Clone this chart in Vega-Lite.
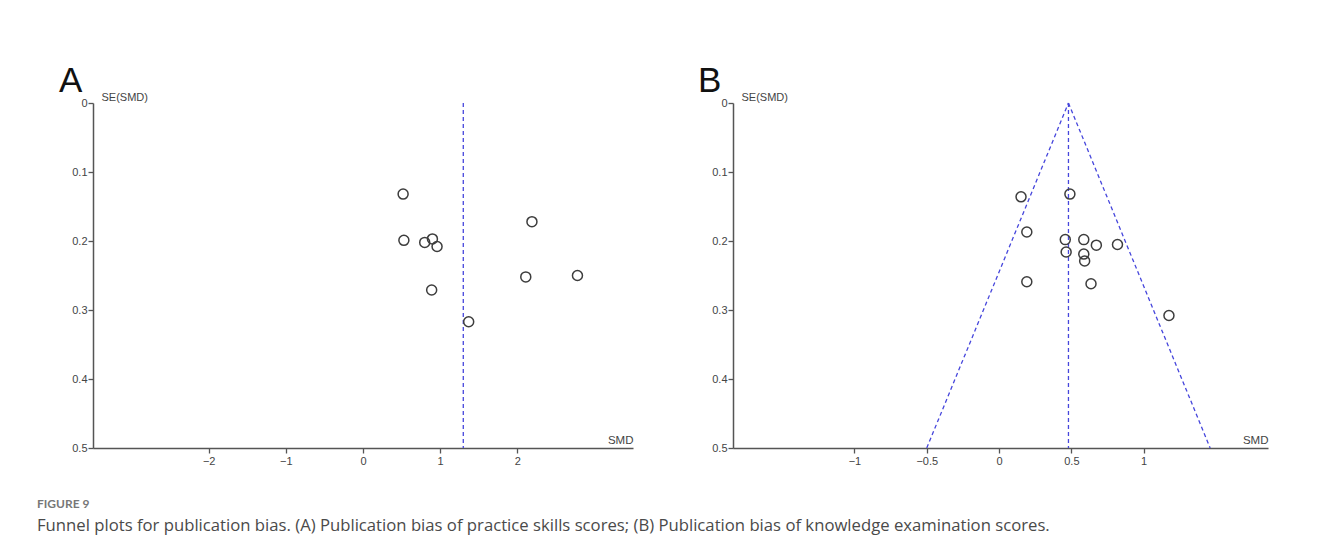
{
  "$schema": "https://vega.github.io/schema/vega-lite/v6.json",
  "autosize": {"type": "pad"},
  "padding": {"left": 37, "top": 64, "right": 56, "bottom": 16},
  "background": "white",
  "bounds": "flush",
  "spacing": 100,
  "config": {
    "view": {"stroke": null},
    "axis": {
      "grid": false,
      "domainColor": "#555",
      "domainWidth": 1.5,
      "tickColor": "#555",
      "tickWidth": 1.3,
      "tickSize": 5,
      "labelFont": "Liberation Sans",
      "labelFontSize": 11,
      "labelColor": "#444",
      "titleFont": "Liberation Sans",
      "titleFontSize": 11,
      "titleFontWeight": "normal",
      "titleColor": "#444"
    },
    "title": {"font": "Liberation Sans", "fontSize": 35, "fontWeight": "normal", "color": "#111"}
  },
  "datasets": {
    "a_points": [
      {"smd": 0.52, "se": 0.132},
      {"smd": 0.53, "se": 0.199},
      {"smd": 0.80, "se": 0.202},
      {"smd": 0.90, "se": 0.197},
      {"smd": 0.96, "se": 0.208},
      {"smd": 0.89, "se": 0.271},
      {"smd": 1.37, "se": 0.317},
      {"smd": 2.19, "se": 0.172},
      {"smd": 2.11, "se": 0.252},
      {"smd": 2.78, "se": 0.250}
    ],
    "a_lines": [
      {"line": "center", "smd": 1.30, "se": 0},
      {"line": "center", "smd": 1.30, "se": 0.5}
    ],
    "b_points": [
      {"smd": 0.152, "se": 0.136},
      {"smd": 0.49, "se": 0.132},
      {"smd": 0.192, "se": 0.187},
      {"smd": 0.458, "se": 0.198},
      {"smd": 0.586, "se": 0.198},
      {"smd": 0.673, "se": 0.206},
      {"smd": 0.819, "se": 0.205},
      {"smd": 0.464, "se": 0.216},
      {"smd": 0.586, "se": 0.219},
      {"smd": 0.592, "se": 0.229},
      {"smd": 0.192, "se": 0.259},
      {"smd": 0.636, "se": 0.262},
      {"smd": 1.175, "se": 0.308}
    ],
    "b_lines": [
      {"line": "center", "smd": 0.48, "se": 0},
      {"line": "center", "smd": 0.48, "se": 0.5},
      {"line": "left", "smd": 0.48, "se": 0},
      {"line": "left", "smd": -0.50, "se": 0.5},
      {"line": "right", "smd": 0.48, "se": 0},
      {"line": "right", "smd": 1.46, "se": 0.5}
    ]
  },
  "title": {
    "text": "FIGURE 9",
    "subtitle": "Funnel plots for publication bias. (A) Publication bias of practice skills scores; (B) Publication bias of knowledge examination scores.",
    "orient": "bottom",
    "anchor": "start",
    "frame": "group",
    "dx": -56,
    "offset": 33,
    "font": "Lato",
    "fontSize": 12,
    "fontWeight": "bold",
    "color": "#777",
    "subtitleFont": "Open Sans",
    "subtitleFontSize": 16.7,
    "subtitleColor": "#4a4a4a",
    "subtitlePadding": 7
  },
  "hconcat": [
    {
      "width": 540,
      "height": 345,
      "title": {"text": "A", "anchor": "start", "frame": "group", "dx": -34, "offset": -8},
      "layer": [
        {
          "data": {"name": "a_lines"},
          "mark": {"type": "line", "color": "#4646dc", "strokeWidth": 1.3, "strokeDash": [4, 3]},
          "encoding": {
            "x": {"field": "smd", "type": "quantitative", "scale": {"domain": [-3.5, 3.5], "nice": false, "zero": false},
              "axis": {"values": [-2, -1, 0, 1, 2], "format": "~g", "labelPadding": 2, "title": "SMD", "titleX": 540, "titleY": -3, "titleAlign": "right", "titleBaseline": "bottom", "titleFontSize": 11.5}},
            "y": {"field": "se", "type": "quantitative", "scale": {"domain": [0, 0.5], "reverse": true, "nice": false},
              "axis": {"values": [0, 0.1, 0.2, 0.3, 0.4, 0.5], "format": "~g", "labelPadding": 1, "title": "SE(SMD)", "titleAngle": 0, "titleX": 8, "titleY": -1, "titleAlign": "left", "titleBaseline": "bottom"}},
            "detail": {"field": "line"}
          }
        },
        {
          "data": {"name": "a_points"},
          "mark": {"type": "point", "shape": "circle", "filled": false, "color": "#3d3d3d", "strokeWidth": 1.5, "size": 100, "opacity": 1},
          "encoding": {
            "x": {"field": "smd", "type": "quantitative"},
            "y": {"field": "se", "type": "quantitative"}
          }
        }
      ]
    },
    {
      "width": 535,
      "height": 345,
      "title": {"text": "B", "anchor": "start", "frame": "group", "dx": -35, "offset": -8},
      "layer": [
        {
          "data": {"name": "b_lines"},
          "mark": {"type": "line", "color": "#4646dc", "strokeWidth": 1.3, "strokeDash": [4, 3]},
          "encoding": {
            "x": {"field": "smd", "type": "quantitative", "scale": {"domain": [-1.84, 1.86], "nice": false, "zero": false},
              "axis": {"values": [-1, -0.5, 0, 0.5, 1], "format": "~g", "labelPadding": 2, "title": "SMD", "titleX": 535, "titleY": -3, "titleAlign": "right", "titleBaseline": "bottom", "titleFontSize": 11.5}},
            "y": {"field": "se", "type": "quantitative", "scale": {"domain": [0, 0.5], "reverse": true, "nice": false},
              "axis": {"values": [0, 0.1, 0.2, 0.3, 0.4, 0.5], "format": "~g", "labelPadding": 1, "title": "SE(SMD)", "titleAngle": 0, "titleX": 8, "titleY": -1, "titleAlign": "left", "titleBaseline": "bottom"}},
            "detail": {"field": "line"}
          }
        },
        {
          "data": {"name": "b_points"},
          "mark": {"type": "point", "shape": "circle", "filled": false, "color": "#3d3d3d", "strokeWidth": 1.5, "size": 100, "opacity": 1},
          "encoding": {
            "x": {"field": "smd", "type": "quantitative"},
            "y": {"field": "se", "type": "quantitative"}
          }
        }
      ]
    }
  ]
}
